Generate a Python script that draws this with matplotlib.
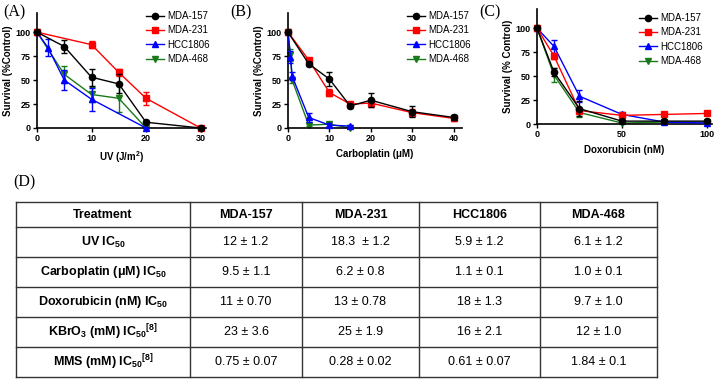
import matplotlib
matplotlib.use("Agg")
import matplotlib.pyplot as plt

plt.rcParams["font.family"] = "Liberation Sans"
plt.rcParams["mathtext.fontset"] = "custom"
plt.rcParams["mathtext.rm"] = "Liberation Sans"
plt.rcParams["mathtext.bf"] = "Liberation Sans:bold"
plt.rcParams["mathtext.default"] = "bf"

lines = ["MDA-157", "MDA-231", "HCC1806", "MDA-468"]
colors = ["black", "#ff0000", "#0000ff", "#1a7a1a"]
markers = ["o", "s", "^", "v"]

# (A) UV
uv_x = {
    "MDA-157": [0, 5, 10, 15, 20, 30],
    "MDA-231": [0, 10, 15, 20, 30],
    "HCC1806": [0, 2, 5, 10, 20],
    "MDA-468": [0, 5, 10, 15, 20],
}
uv_y = {
    "MDA-157": [100, 85, 53, 46, 6, 0],
    "MDA-231": [100, 87, 58, 31, 0],
    "HCC1806": [100, 84, 50, 30, 0],
    "MDA-468": [100, 56, 35, 31, 0],
}
uv_err = {
    "MDA-157": [0, 7, 9, 10, 1, 0],
    "MDA-231": [0, 4, 4, 7, 0],
    "HCC1806": [0, 9, 10, 12, 0],
    "MDA-468": [0, 9, 8, 14, 0],
}

# (B) Carboplatin
cb_x = {
    "MDA-157": [0, 5, 10, 15, 20, 30, 40],
    "MDA-231": [0, 5, 10, 15, 20, 30, 40],
    "HCC1806": [0, 0.6, 1, 5, 10, 15],
    "MDA-468": [0, 0.6, 1, 5, 10, 15],
}
cb_y = {
    "MDA-157": [100, 67, 51, 23, 29, 17, 11],
    "MDA-231": [100, 71, 37, 25, 26, 16, 10],
    "HCC1806": [100, 74, 54, 11, 3, 2],
    "MDA-468": [100, 76, 50, 3, 4, 0],
}
cb_err = {
    "MDA-157": [0, 2, 7, 2, 7, 6, 3],
    "MDA-231": [0, 2, 4, 1, 4, 4, 3],
    "HCC1806": [0, 6, 4, 5, 2, 1],
    "MDA-468": [0, 6, 3, 1, 2, 0],
}

# (C) Doxorubicin
dx_x = [0, 10, 25, 50, 75, 100]
dx_y = {
    "MDA-157": [100, 54, 16, 3, 3, 3],
    "MDA-231": [100, 71, 14, 9, 10, 11],
    "HCC1806": [100, 81, 29, 10, 2, 1],
    "MDA-468": [100, 51, 12, 1, 2, 2],
}
dx_err = {
    "MDA-157": [0, 4, 8, 1, 1, 1],
    "MDA-231": [0, 3, 2, 1, 1, 1],
    "HCC1806": [0, 7, 6, 3, 1, 1],
    "MDA-468": [0, 7, 5, 1, 1, 1],
}

# (D) table
col_labels = ["Treatment", "MDA-157", "MDA-231", "HCC1806", "MDA-468"]
row_labels = ["UV IC$_{50}$", "Carboplatin (μM) IC$_{50}$", "Doxorubicin (nM) IC$_{50}$",
              "KBrO$_3$ (mM) IC$_{50}$$^{[8]}$", "MMS (mM) IC$_{50}$$^{[8]}$"]
cell_text = [
    ["12 ± 1.2", "18.3  ± 1.2", "5.9 ± 1.2", "6.1 ± 1.2"],
    ["9.5 ± 1.1", "6.2 ± 0.8", "1.1 ± 0.1", "1.0 ± 0.1"],
    ["11 ± 0.70", "13 ± 0.78", "18 ± 1.3", "9.7 ± 1.0"],
    ["23 ± 3.6", "25 ± 1.9", "16 ± 2.1", "12 ± 1.0"],
    ["0.75 ± 0.07", "0.28 ± 0.02", "0.61 ± 0.07", "1.84 ± 0.1"],
]

W, H = 716, 380
fig = plt.figure(figsize=(W / 100, H / 100), dpi=100)


def make_panel(rect, xs, ys, errs, xlim, xticks, xlabel, ylabel, leg_xy):
    l, t, r, b = rect
    ax = fig.add_axes([l / W, 1 - b / H, (r - l) / W, (b - t) / H])
    handles = []
    for i, name in enumerate(lines):
        x = xs[name] if isinstance(xs, dict) else xs
        h, = ax.plot(x, ys[name], color=colors[i], marker=markers[i], ms=4.5,
                     lw=1, zorder=5 - i, clip_on=False)
        ax.errorbar(x, ys[name], yerr=errs[name], fmt="none", ecolor=colors[i],
                    elinewidth=1, capsize=2, capthick=1, zorder=5 - i, clip_on=False)
        handles.append(h)
    ax.set_xlim(*xlim)
    ax.set_ylim(0, 120)
    ax.set_xticks(xticks)
    ax.set_yticks([0, 25, 50, 75, 100])
    for s in ["top", "right"]:
        ax.spines[s].set_visible(False)
    for s in ["left", "bottom"]:
        ax.spines[s].set_linewidth(1.2)
    ax.tick_params(labelsize=6.5, width=1, length=3, pad=1.5)
    for lab in ax.get_xticklabels() + ax.get_yticklabels():
        lab.set_fontweight("bold")
    ax.set_xlabel(xlabel, fontsize=7, fontweight="bold", labelpad=4)
    ax.set_ylabel(ylabel, fontsize=7, fontweight="bold", labelpad=2)
    fig.legend(handles, lines, loc="upper left",
               bbox_to_anchor=(leg_xy[0] / W, 1 - leg_xy[1] / H),
               frameon=False, fontsize=7, handlelength=1.8, handletextpad=0.4,
               labelspacing=0.45, borderpad=0, borderaxespad=0)
    return ax


make_panel((37, 13, 206, 128), uv_x, uv_y, uv_err, (0, 31), [0, 10, 20, 30],
           "UV (J/m$^2$)", "Survival (%Control)", (146, 11))
make_panel((288, 13, 462, 128), cb_x, cb_y, cb_err, (0, 42), [0, 10, 20, 30, 40],
           "Carboplatin (μM)", "Survival (%Control)", (407, 11))
make_panel((537, 9, 712, 124), dx_x, dx_y, dx_err, (0, 103), [0, 50, 100],
           "Doxorubicin (nM)", "Survival (% Control)", (639, 13))

for lab, x, y in [("(A)", 3, 12), ("(B)", 230, 12), ("(C)", 479, 12), ("(D)", 13, 182)]:
    fig.text(x / W, 1 - y / H, lab, family="Liberation Serif", fontsize=11.5, va="center")

# table drawn on a full-figure axes in pixel units
tax = fig.add_axes([0, 0, 1, 1])
tax.set_xlim(0, W)
tax.set_ylim(H, 0)
tax.axis("off")
col_edges = [16, 190, 302, 419, 540, 657]
row_edges = [202, 227, 257, 287, 317, 347, 377]
for y in row_edges:
    tax.plot([col_edges[0], col_edges[-1]], [y, y], color="#333333", lw=1)
for x in col_edges:
    tax.plot([x, x], [row_edges[0], row_edges[-1]], color="#333333", lw=1)
for j, lab in enumerate(col_labels):
    tax.text((col_edges[j] + col_edges[j + 1]) / 2, (row_edges[0] + row_edges[1]) / 2, lab,
             ha="center", va="center", fontsize=9, fontweight="bold")
for i, lab in enumerate(row_labels):
    yc = (row_edges[i + 1] + row_edges[i + 2]) / 2
    tax.text((col_edges[0] + col_edges[1]) / 2, yc, lab, ha="center", va="center",
             fontsize=9, fontweight="bold")
    for j, val in enumerate(cell_text[i]):
        tax.text((col_edges[j + 1] + col_edges[j + 2]) / 2, yc, val, ha="center",
                 va="center", fontsize=9)

fig.savefig("out.png", dpi=100)
